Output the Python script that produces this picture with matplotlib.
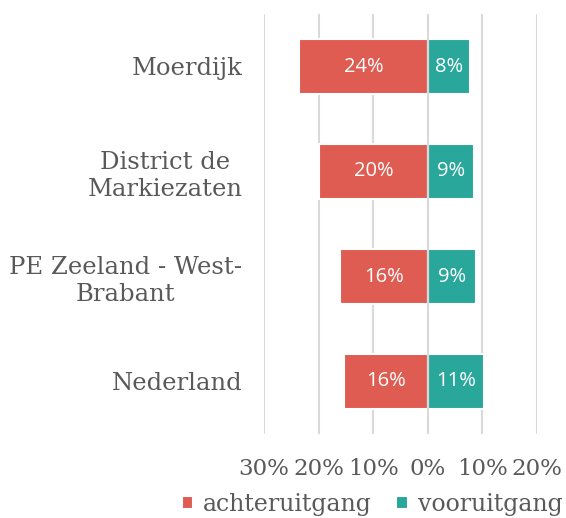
import matplotlib
matplotlib.use("Agg")
import matplotlib.pyplot as plt
from matplotlib.ticker import FuncFormatter

# data
gebieden = ["Moerdijk", "District de\nMarkiezaten", "PE Zeeland - West-\nBrabant", "Nederland"]
achteruitgang = [23.6, 19.9, 16.0, 15.4]
vooruitgang = [7.8, 8.5, 8.8, 10.3]
achter_labels = ["24%", "20%", "16%", "16%"]
voor_labels = ["8%", "9%", "9%", "11%"]

rood = "#DF5C52"
groen = "#2AA79B"
grijs = "#595959"

fig = plt.figure(figsize=(5.66, 5.18), dpi=100)
ax = fig.add_axes([264 / 566, 1 - 434 / 518, (537 - 264) / 566, 420 / 518])

y = list(range(len(gebieden)))
b1 = ax.barh(y, [-v for v in achteruitgang], height=0.53, color=rood,
             edgecolor="white", linewidth=1.5, label="achteruitgang", zorder=3)
b2 = ax.barh(y, vooruitgang, height=0.53, color=groen,
             edgecolor="white", linewidth=1.5, label="vooruitgang", zorder=3)
ax.axvline(0, color="#D9D9D9", linewidth=1.5, zorder=3.5)

for bar, txt in zip(b1, achter_labels):
    ax.text(bar.get_x() + bar.get_width() / 2, bar.get_y() + bar.get_height() / 2,
            txt, ha="center", va="center", color="white", fontsize=14.5,
            family="Open Sans", zorder=4)
for bar, txt in zip(b2, voor_labels):
    ax.text(bar.get_x() + bar.get_width() / 2, bar.get_y() + bar.get_height() / 2,
            txt, ha="center", va="center", color="white", fontsize=14.5,
            family="Open Sans", zorder=4)

ax.set_xlim(-30, 20)
ax.set_ylim(len(gebieden) - 0.5, -0.5)
ax.set_xticks([-30, -20, -10, 0, 10, 20])
ax.xaxis.set_major_formatter(FuncFormatter(lambda v, p: f"{abs(v):.0f}%"))
ax.set_yticks(y)
ax.set_yticklabels(gebieden, multialignment="center")
ax.grid(axis="x", color="#D9D9D9", linewidth=1.5, zorder=0)
for s in ax.spines.values():
    s.set_visible(False)
ax.tick_params(axis="both", length=0, colors=grijs)
ax.tick_params(axis="x", pad=17, labelsize=16.5)
ax.tick_params(axis="y", pad=15.5, labelsize=17.5)
for lab in ax.get_xticklabels() + ax.get_yticklabels():
    lab.set_family("DejaVu Serif")
    lab.set_color(grijs)

ax.legend(loc="lower center", bbox_to_anchor=(372 / 566, -0.005), bbox_transform=fig.transFigure,
          ncol=2, frameon=False, handlelength=0.5, handleheight=0.5,
          handletextpad=0.4, columnspacing=1.05,
          prop={"family": "DejaVu Serif", "size": 17}, labelcolor=grijs,
          borderaxespad=0, borderpad=0.2)

fig.savefig("out.png", dpi=100)
